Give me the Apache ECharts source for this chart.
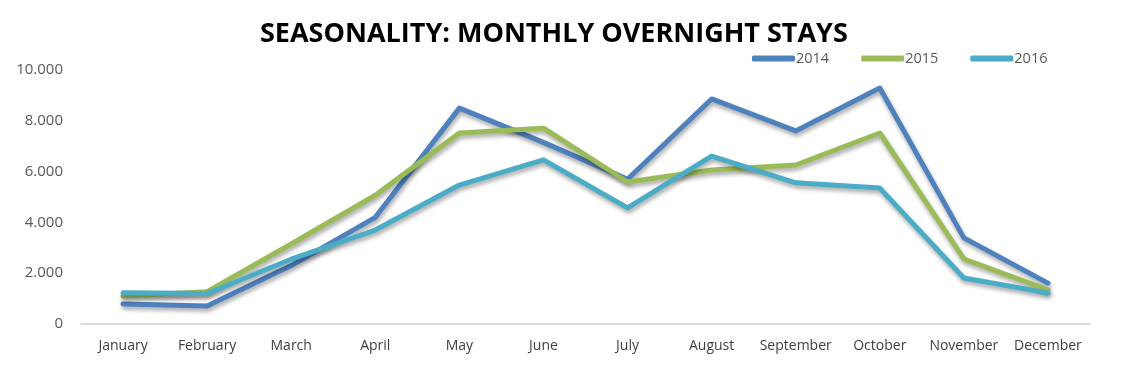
<!DOCTYPE html>
<html><head><meta charset="utf-8">
<script src="https://cdn.jsdelivr.net/npm/echarts@6/dist/echarts.min.js"></script>
<style>html,body{margin:0;padding:0;background:#fff}#c{width:1131px;height:376px}</style>
</head><body><div id="c"></div>
<script>
const months = ['January','February','March','April','May','June','July','August','September','October','November','December'];
const y2014 = [790, 710, 2300, 4200, 8500, 7150, 5700, 8860, 7600, 9290, 3390, 1610];
const y2015 = [1100, 1270, 3150, 5070, 7520, 7710, 5590, 6060, 6260, 7520, 2560, 1340];
const y2016 = [1230, 1200, 2550, 3700, 5470, 6460, 4570, 6610, 5560, 5350, 1810, 1220];
const yTicks = [0, 2000, 4000, 6000, 8000, 10000];

const chart = echarts.init(document.getElementById('c'));
const mk = (name, data, color) => ({
  name, type: 'line', data, symbol: 'none', smooth: false,
  lineStyle: { width: 5, color, shadowColor: 'rgba(0,0,0,0.35)', shadowBlur: 4, shadowOffsetY: 3, shadowOffsetX: 1, cap: 'round', join: 'round' },
  itemStyle: { color }
});
chart.setOption({
  animation: false,
  title: { text: 'SEASONALITY: MONTHLY OVERNIGHT STAYS', left: 255, top: 16,
    textStyle: { fontFamily: 'Open Sans', fontWeight: 'bold', fontSize: 27, color: '#000' } },
  legend: { top: 46, left: 747, itemWidth: 43, itemHeight: 6, itemGap: 32, icon: 'roundRect',
    textStyle: { color: '#595959', fontSize: 14.5, fontFamily: 'Open Sans', padding: [0,0,0,-4] } },
  grid: { left: 81, right: 41, top: 70, bottom: 52 },
  xAxis: { type: 'category', data: months, boundaryGap: true,
    axisLine: { lineStyle: { color: '#d9d9d9', width: 2 } }, axisTick: { show: false },
    axisLabel: { interval: 0, color: '#404040', fontSize: 14, fontFamily: 'Open Sans', margin: 15 } },
  yAxis: { type: 'value', min: 0, max: 10000, interval: 2000,
    splitLine: { show: false }, axisLine: { show: false }, axisTick: { show: false },
    axisLabel: { color: '#595959', fontSize: 15, fontFamily: 'Open Sans', margin: 18,
      formatter: v => yTicks.includes(v) ? (v === 0 ? '0' : (v/1000).toFixed(3)) : '' } },
  series: [ mk('2014', y2014, '#4f81bd'), mk('2015', y2015, '#9bbb59'), mk('2016', y2016, '#4bacc6') ]
});
</script></body></html>
